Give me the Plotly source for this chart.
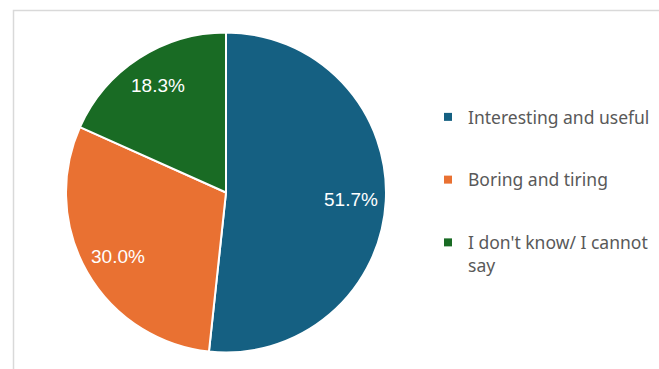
import math
import plotly.graph_objects as go

labels = ["Interesting and useful", "Boring and tiring", "I don't know/ I cannot<br>say"]
values = [51.7, 30.0, 18.3]
colors = ["#156082", "#E97132", "#196B24"]

W, H = 659, 369
cx, cy, R = 226, 192.5, 160  # pie centre and radius in pixels

fig = go.Figure(go.Pie(
    labels=labels,
    values=values,
    sort=False,
    direction="clockwise",
    rotation=0,
    marker=dict(colors=colors, line=dict(color="white", width=2)),
    textinfo="none",
    hovertemplate="%{label}: %{value:.1f}%<extra></extra>",
    showlegend=False,
    domain=dict(x=[(cx - R) / W, (cx + R) / W], y=[1 - (cy + R) / H, 1 - (cy - R) / H]),
))

# legend entries (square keys) for each category, spaced like the reference
for i, (lab, col) in enumerate(zip(labels, colors)):
    fig.add_trace(go.Scatter(
        x=[None], y=[None], mode="markers", name=lab,
        marker=dict(symbol="square", size=8, color=col),
        legendgroup=f"g{i}", showlegend=True, hoverinfo="skip",
    ))

# data labels placed at each slice's mid-angle (clockwise from 12 o'clock)
total = sum(values)
cum = 0.0
annotations = []
for v in values:
    mid = (cum + v / 2) / total * 2 * math.pi
    cum += v
    px = cx + 0.78 * R * math.sin(mid)
    py = cy - 0.8 * R * math.cos(mid)
    annotations.append(dict(
        x=px / W, y=1 - py / H, xref="paper", yref="paper",
        xanchor="center", yanchor="middle",
        text=f"{v:.1f}%", showarrow=False,
        font=dict(color="white", size=19, family="Liberation Sans"),
    ))

fig.update_layout(
    width=W, height=H,
    margin=dict(l=0, r=0, t=0, b=0),
    paper_bgcolor="white",
    plot_bgcolor="white",
    xaxis=dict(visible=False),
    yaxis=dict(visible=False),
    showlegend=True,
    legend=dict(
        x=428 / W, xanchor="left",
        y=1 - 99 / H, yanchor="top",
        valign="top",
        font=dict(size=17.5, color="#595959", family="Noto Sans"),
        itemwidth=30,
        tracegroupgap=37,
    ),
    annotations=annotations,
    shapes=[dict(type="rect", xref="paper", yref="paper",
                 x0=13.5 / W, x1=1.02, y0=-0.02, y1=1 - 10.5 / H,
                 line=dict(color="#D9D9D9", width=1.5), fillcolor="rgba(0,0,0,0)")],
)

fig.write_html("out.html")
